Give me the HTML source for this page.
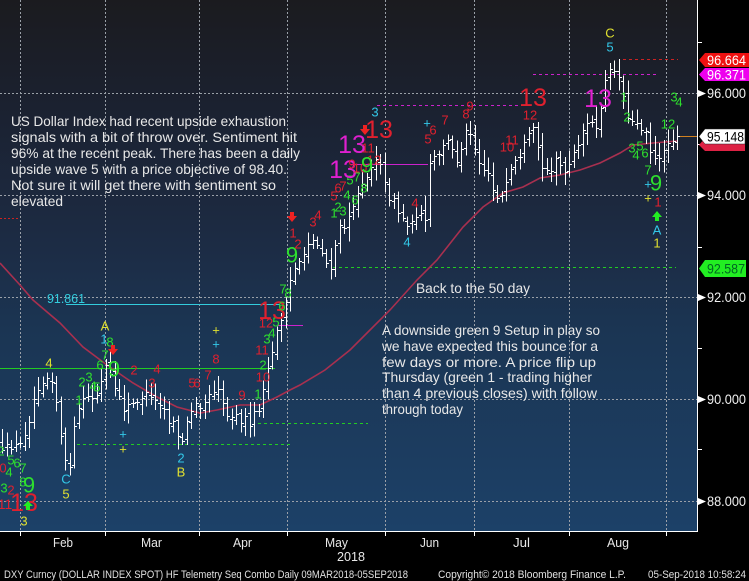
<!DOCTYPE html>
<html><head><meta charset="utf-8">
<style>
html,body{margin:0;padding:0;background:#000;width:749px;height:581px;overflow:hidden}
svg{display:block}
text{font-family:"Liberation Sans",sans-serif}
.an{fill:#e8e8e8;font-size:14px}
.c{font-size:13px;text-anchor:middle;dominant-baseline:central}
.r{fill:#e0202e}.g{fill:#2ee02e}.cy{fill:#33c8e8}.y{fill:#e0e030}.m{fill:#e020d0}
.big{font-size:25px}.b9{font-size:22px}
.ax{fill:#f0f0f0;font-size:14px}
.mo{fill:#e8e8e8;font-size:13px}
.ft{fill:#e0e0e0;font-size:11px}
</style></head><body>
<svg id="s" width="749" height="581" viewBox="0 0 749 581">
<defs><linearGradient id="bg" x1="0" y1="0" x2="0" y2="1">
<stop offset="0" stop-color="#1b1b1f"/>
<stop offset="0.2" stop-color="#1b2130"/>
<stop offset="0.47" stop-color="#1c2c45"/>
<stop offset="0.62" stop-color="#1b3553"/>
<stop offset="1" stop-color="#1c4168"/>
</linearGradient></defs>
<rect width="749" height="581" fill="#000"/>
<rect x="0" y="0" width="697" height="531" fill="url(#bg)"/>
<g stroke="#9aa0a8" stroke-width="1" stroke-dasharray="2 2" shape-rendering="crispEdges">
<path d="M20.5 0V531M105.5 0V531M199.5 0V531M287.5 0V531M385.5 0V531M474.5 0V531M569.5 0V531M666.5 0V531"/>
<path d="M0 93.5H697M0 195.5H697M0 297.5H697M0 399.5H697M0 501.5H697"/>
</g>
<!-- level lines -->
<g stroke-width="1.2" fill="none" shape-rendering="crispEdges">
<path d="M0 368.5H275" stroke="#22cc22"/>
<path d="M66 304.5H280" stroke="#33ccdd"/>
<path d="M278 325.5H303" stroke="#cc22cc"/>
<path d="M350 164.5H428" stroke="#cc22cc"/>
<path d="M77 444.5H293" stroke="#22cc22" stroke-dasharray="3 3"/>
<path d="M258 423.5H368" stroke="#22cc22" stroke-dasharray="3 3"/>
<path d="M333 267.5H676" stroke="#22cc22" stroke-dasharray="3 3"/>
<path d="M377 105.5H528" stroke="#cc22cc" stroke-dasharray="3 3"/>
<path d="M533 74.5H656" stroke="#cc22cc" stroke-dasharray="3 3"/>
<path d="M623 59.5H678" stroke="#cc2222" stroke-dasharray="3 3"/>
<path d="M0 218.5H20" stroke="#cc2222" stroke-dasharray="2 2"/>
<path d="M678 136.5H697" stroke="#d08020"/>
</g>
<!-- 50 day MA -->
<polyline fill="none" stroke="#a8304f" stroke-width="1.6" points="0,263 20,285 33,300 60,323 83,347 107,365 133,383 157,397 177,407 200,413 217,410 240,405 260,405 277,397 290,390 300,385 325,370 350,350 370,330 390,310 417,280 437,260 463,227 483,207 503,193 523,187 540,178 560,175 580,170 600,163 620,153 633,145 653,143 677,141"/>
<path id="bars" fill="none" stroke="#ffffff" stroke-width="1" shape-rendering="crispEdges" d=""/>
<!-- count labels -->
<g>
<text class="c g" x="1" y="451">2</text>
<text class="c g" x="11" y="460">5</text>
<text class="c g" x="17" y="463">6</text>
<text class="c g" x="23" y="468">7</text>
<text class="c r" x="3" y="468">0</text>
<text class="c g" x="9" y="472">4</text>
<text class="c g" x="4" y="488">3</text>
<text class="c r" x="11" y="490">2</text>
<text class="c g" x="23" y="482">8</text>
<text class="c g b9" x="29" y="485">9</text>
<text class="c r" x="5" y="504" style="font-size:14px">11</text>
<text class="c r big" x="24" y="503">13</text>
<path d="M26 510h4v-4h3l-5-5-5 5h3z" fill="#22ee22"/>
<text class="c y" x="24" y="521">3</text>
<text class="c cy" x="66" y="479">C</text>
<text class="c y" x="66" y="494">5</text>
<text class="c y" x="49" y="363">4</text>
<text class="c g" x="79" y="400">1</text>
<text class="c g" x="82" y="382">2</text>
<text class="c g" x="89" y="377">3</text>
<text class="c g" x="93" y="386">4</text>
<text class="c g" x="97" y="387">5</text>
<text class="c y" x="105" y="326">A</text>
<text class="c cy" x="104" y="339">1</text>
<text class="c g" x="110" y="342">8</text>
<text class="c g" x="105" y="355">7</text>
<text class="c g" x="100" y="365">6</text>
<text class="c g b9" x="114" y="369">9</text>
<path d="M111 345h4v4h3l-5 6-5-6h3z" fill="#ee2222"/>
<text class="c cy" x="123" y="434">+</text>
<text class="c y" x="123" y="449">+</text>
<text class="c r" x="134" y="370">2</text>
<text class="c r" x="152" y="383">3</text>
<text class="c r" x="157" y="369">4</text>
<text class="c cy" x="181" y="458">2</text>
<text class="c y" x="181" y="472">B</text>
<text class="c r" x="192" y="383">5</text>
<text class="c r" x="197" y="383">6</text>
<text class="c r" x="208" y="375">7</text>
<text class="c r" x="216" y="359">8</text>
<text class="c y" x="216" y="330">+</text>
<text class="c cy" x="216" y="344">+</text>
<text class="c r" x="242" y="395">9</text>
<text class="c g" x="258" y="394">1</text>
<text class="c r" x="263" y="377">10</text>
<text class="c g" x="263" y="365">2</text>
<text class="c r" x="262" y="350">11</text>
<text class="c g" x="267" y="339">3</text>
<text class="c g" x="272" y="333">4</text>
<text class="c r" x="266" y="323">12</text>
<text class="c g" x="276" y="322">5</text>
<text class="c r big" x="272" y="311">13</text>
<text class="c g" x="282" y="306">6</text>
<text class="c g" x="283" y="289">7</text>
<text class="c g" x="288" y="293">8</text>
<text class="c g b9" x="292" y="255">9</text>
<path d="M290 212h4v4h3l-5 6-5-6h3z" fill="#ee2222"/>
<text class="c r" x="293" y="233">1</text>
<text class="c r" x="298" y="244">2</text>
<text class="c r" x="313" y="222">3</text>
<text class="c r" x="318" y="215">4</text>
<text class="c g" x="334" y="213">1</text>
<text class="c g" x="338" y="207">2</text>
<text class="c g" x="343" y="211">3</text>
<text class="c g" x="347" y="195">4</text>
<text class="c g" x="355" y="200">6</text>
<text class="c r" x="334" y="196">5</text>
<text class="c r" x="338" y="188">6</text>
<text class="c r" x="343" y="186">7</text>
<text class="c g" x="350" y="180">5</text>
<text class="c g" x="357" y="177">7</text>
<text class="c g" x="364" y="188">8</text>
<text class="c m big" x="343" y="170">13</text>
<text class="c r" x="352" y="164">9</text>
<text class="c r" x="360" y="168">10</text>
<text class="c r" x="374" y="160">12</text>
<text class="c g b9" x="367" y="165">9</text>
<text class="c m big" x="352" y="145">13</text>
<text class="c r" x="368" y="148">11</text>
<path d="M363 125h4v4h3l-5 6-5-6h3z" fill="#ee2222"/>
<text class="c r big" x="379" y="130">13</text>
<text class="c cy" x="375" y="112">3</text>
<text class="c cy" x="407" y="242">4</text>
<text class="c r" x="415" y="203">4</text>
<text class="c cy" x="427" y="123">+</text>
<text class="c r" x="428" y="139">5</text>
<text class="c r" x="433" y="130">6</text>
<text class="c r" x="445" y="120">7</text>
<text class="c r" x="466" y="114">8</text>
<text class="c r" x="470" y="106">9</text>
<text class="c r" x="507" y="147">10</text>
<text class="c r" x="512" y="140">11</text>
<text class="c r" x="530" y="115">12</text>
<text class="c r big" x="533" y="98">13</text>
<text class="c m big" x="598" y="99">13</text>
<text class="c y" x="610" y="33">C</text>
<text class="c cy" x="610" y="47">5</text>
<text class="c g" x="624" y="97">1</text>
<text class="c g" x="627" y="117">2</text>
<text class="c g" x="632" y="148">3</text>
<text class="c g" x="636" y="155">4</text>
<text class="c g" x="640" y="146">5</text>
<text class="c g" x="645" y="153">6</text>
<text class="c g" x="648" y="170">7</text>
<text class="c cy" x="648" y="184">+</text>
<text class="c g b9" x="656" y="183">9</text>
<text class="c y" x="648" y="198">+</text>
<text class="c r" x="658" y="202">1</text>
<path d="M655 221h4v-4h3l-5-6-5 6h3z" fill="#22ee22"/>
<text class="c cy" x="657" y="230">A</text>
<text class="c y" x="657" y="243">1</text>
<text class="c g" x="668" y="124">12</text>
<text class="c g" x="674" y="97">3</text>
<text class="c g" x="679" y="102">4</text>
</g>
<!-- annotations -->
<text class="an" x="11" y="126" textLength="275" lengthAdjust="spacingAndGlyphs">US Dollar Index had recent upside exhaustion</text>
<text class="an" x="11" y="142" textLength="286" lengthAdjust="spacingAndGlyphs">signals with a bit of throw over.  Sentiment hit</text>
<text class="an" x="11" y="158" textLength="289" lengthAdjust="spacingAndGlyphs">96% at the recent peak.  There has been a daily</text>
<text class="an" x="11" y="174" textLength="276" lengthAdjust="spacingAndGlyphs">upside wave 5 with a price objective of 98.40.</text>
<text class="an" x="11" y="190" textLength="265" lengthAdjust="spacingAndGlyphs">Not sure it will get there with sentiment so</text>
<text class="an" x="11" y="206" textLength="52" lengthAdjust="spacingAndGlyphs">elevated</text>
<text class="an" x="47" y="303" style="fill:#33ccdd;font-size:13px" textLength="38" lengthAdjust="spacingAndGlyphs">91.861</text>
<text class="an" x="416" y="293" textLength="114" lengthAdjust="spacingAndGlyphs">Back to the 50 day</text>
<text class="an" x="382" y="335" textLength="218" lengthAdjust="spacingAndGlyphs">A downside green 9 Setup in play so</text>
<text class="an" x="382" y="351" textLength="216" lengthAdjust="spacingAndGlyphs">we have expected this bounce for a</text>
<text class="an" x="382" y="367" textLength="214" lengthAdjust="spacingAndGlyphs">few days or more.  A price flip up</text>
<text class="an" x="382" y="382" textLength="210" lengthAdjust="spacingAndGlyphs">Thursday (green 1 - trading higher</text>
<text class="an" x="382" y="398" textLength="215" lengthAdjust="spacingAndGlyphs">than 4 previous closes) with follow</text>
<text class="an" x="382" y="414" textLength="81" lengthAdjust="spacingAndGlyphs">through today</text>
<!-- axes -->
<g stroke="#ffffff" stroke-width="1" shape-rendering="crispEdges">
<path d="M697.5 0V532M0 531.5H698"/>
<path d="M20.5 531V536M105.5 531V536M199.5 531V536M287.5 531V536M385.5 531V536M474.5 531V536M569.5 531V536M666.5 531V536"/>
<path d="M697 42.5H702M697 144.5H702M697 247.5H702M697 348.5H702M697 449.5H702"/>
</g>
<g fill="#ffffff">
<path d="M698 90l8 3.5-8 3.5z"/>
<path d="M698 192l8 3.5-8 3.5z"/>
<path d="M698 294l8 3.5-8 3.5z"/>
<path d="M698 396l8 3.5-8 3.5z"/>
<path d="M698 498l8 3.5-8 3.5z"/>
</g>
<text class="ax" x="707" y="98" textLength="39" lengthAdjust="spacingAndGlyphs">96.000</text>
<text class="ax" x="707" y="200" textLength="39" lengthAdjust="spacingAndGlyphs">94.000</text>
<text class="ax" x="707" y="302" textLength="39" lengthAdjust="spacingAndGlyphs">92.000</text>
<text class="ax" x="707" y="404" textLength="39" lengthAdjust="spacingAndGlyphs">90.000</text>
<text class="ax" x="707" y="506" textLength="39" lengthAdjust="spacingAndGlyphs">88.000</text>
<!-- price boxes -->
<path d="M699 60l6-7h44v14h-44z" fill="#ee1111"/>
<text class="ax" x="707" y="65" style="fill:#fff" textLength="39" lengthAdjust="spacingAndGlyphs">96.664</text>
<path d="M699 74.5l6-6.5h44v13h-44z" fill="#ee00ee"/>
<text class="ax" x="707" y="79.5" style="fill:#fff" textLength="39" lengthAdjust="spacingAndGlyphs">96.371</text>
<path d="M699 145l6-7h40v13h-40z" fill="#dd2244"/>
<path d="M699 136.5l6-7.5h40v15h-40z" fill="#ffffff" stroke="#222" stroke-width="0.5"/>
<text class="ax" x="707" y="141.5" style="fill:#000" textLength="37" lengthAdjust="spacingAndGlyphs">95.148</text>
<path d="M699 268.5l6-8.5h41v17h-41z" fill="#22ee22"/>
<text class="ax" x="707" y="273.5" style="fill:#062" textLength="38" lengthAdjust="spacingAndGlyphs">92.587</text>
<!-- month labels -->
<text class="mo" x="53" y="547" textLength="20" lengthAdjust="spacingAndGlyphs">Feb</text>
<text class="mo" x="141" y="547" textLength="21" lengthAdjust="spacingAndGlyphs">Mar</text>
<text class="mo" x="233" y="547" textLength="19" lengthAdjust="spacingAndGlyphs">Apr</text>
<text class="mo" x="325" y="547" textLength="23" lengthAdjust="spacingAndGlyphs">May</text>
<text class="mo" x="420" y="547" textLength="19" lengthAdjust="spacingAndGlyphs">Jun</text>
<text class="mo" x="513" y="547" textLength="17" lengthAdjust="spacingAndGlyphs">Jul</text>
<text class="mo" x="607" y="547" textLength="22" lengthAdjust="spacingAndGlyphs">Aug</text>
<text class="mo" x="337" y="561" textLength="28" lengthAdjust="spacingAndGlyphs">2018</text>
<text class="ft" x="4" y="578" textLength="404" lengthAdjust="spacingAndGlyphs">DXY Curncy (DOLLAR INDEX SPOT) HF Telemetry Seq Combo  Daily 09MAR2018-05SEP2018</text>
<text class="ft" x="438" y="578" textLength="188" lengthAdjust="spacingAndGlyphs">Copyright© 2018 Bloomberg Finance L.P.</text>
<text class="ft" x="648" y="578" textLength="98" lengthAdjust="spacingAndGlyphs">05-Sep-2018 10:58:24</text>
</svg>
<script>
(function(){
var kp=[[0,445],[8,450],[15,440],[22,452],[28,420],[33,405],[38,385],[45,375],[50,380],[55,395],[60,430],[66,465],[70,470],[74,430],[78,410],[85,400],[95,395],[100,385],[106,365],[110,375],[118,400],[125,410],[132,405],[140,395],[150,400],[160,405],[168,420],[175,430],[182,440],[188,420],[195,405],[205,400],[213,395],[218,385],[223,410],[230,415],[240,420],[250,420],[256,415],[262,395],[268,370],[275,340],[280,320],[286,295],[290,280],[295,268],[302,265],[308,245],[313,235],[318,245],[325,260],[330,268],[337,235],[345,220],[352,205],[360,195],[367,170],[374,158],[378,160],[384,185],[392,200],[400,215],[407,225],[413,215],[420,210],[425,222],[428,175],[432,155],[438,158],[444,145],[449,130],[454,160],[458,170],[465,135],[468,125],[473,145],[478,160],[485,170],[492,190],[498,200],[503,195],[508,175],[515,160],[522,150],[528,140],[533,128],[537,150],[543,165],[550,170],[557,160],[563,170],[570,165],[575,150],[582,130],[590,125],[597,125],[601,100],[605,75],[610,68],[614,70],[618,75],[622,90],[626,110],[631,122],[636,125],[642,128],[646,125],[650,150],[655,158],[660,155],[664,155],[668,140],[672,140],[675,118],[679,128]];
function interp(x){
  if(x<=kp[0][0])return kp[0][1];
  for(var i=1;i<kp.length;i++){
    if(x<=kp[i][0]){var a=kp[i-1],b=kp[i];return a[1]+(b[1]-a[1])*(x-a[0])/(b[0]-a[0]);}
  }
  return kp[kp.length-1][1];
}
var seed=12345;
function rnd(){seed=(seed*16807)%2147483647;return (seed-1)/2147483646;}
var d="",prev=interp(0);
var n=151;
for(var i=0;i<n;i++){
  var x=2+i*4.5;
  var mid=interp(x);
  var o=prev+(rnd()-0.5)*7;
  var c=mid+(rnd()-0.5)*12;
  if(i==n-1)c=136;
  var hi=Math.min(o,c)-(3+rnd()*11);
  var lo=Math.max(o,c)+(3+rnd()*11);
  var xx=Math.round(x)+0.5;
  d+="M"+xx+" "+hi.toFixed(1)+"V"+lo.toFixed(1)+"M"+(xx-2.5)+" "+Math.round(o)+".5H"+xx+"M"+xx+" "+Math.round(c)+".5H"+(xx+2.5);
  prev=c;
}
document.getElementById("bars").setAttribute("d",d);
})();
</script>
</body></html>
